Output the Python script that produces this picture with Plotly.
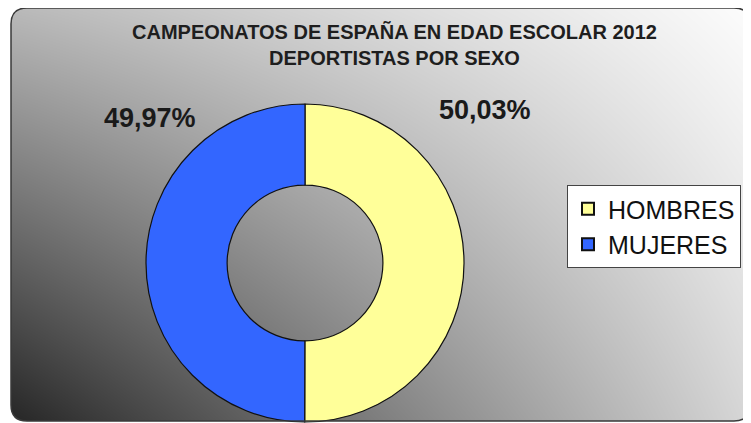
import plotly.graph_objects as go

# ---- data ----
categories = ["HOMBRES", "MUJERES"]
percentages = [50.03, 49.97]
colors = ["#FFFF99", "#3366FF"]
title_lines = ["CAMPEONATOS DE ESPAÑA EN EDAD ESCOLAR 2012", "DEPORTISTAS POR SEXO"]

# background gradient corner greys (bottom-left, bottom-right / top-left, top-right)
bg_bottom = [38, 215]
bg_top = [185, 252]

# the page body has an 8px margin, so the figure is placed at (8, 8)
OFF = 8
W, H = 751 - OFF, 423 - OFF
FONT = "Liberation Sans, Arial, sans-serif"

def px(x):
    return (x - OFF) / W

def py(y):
    return 1 - (y - OFF) / H

fig = go.Figure()

# gradient background as a smooth heatmap
fig.add_trace(go.Heatmap(
    z=[bg_bottom, bg_top], x=[0, 1], y=[0, 1],
    zsmooth="best", zmin=0, zmax=255,
    colorscale=[[0, "rgb(0,0,0)"], [1, "rgb(255,255,255)"]],
    showscale=False, hoverinfo="skip", showlegend=False,
))

# donut
cx, cy, d = 305, 263, 318
fig.add_trace(go.Pie(
    labels=categories, values=percentages,
    marker=dict(colors=colors, line=dict(color="#111111", width=1.2)),
    hole=0.49, sort=False, direction="clockwise", rotation=0,
    textinfo="none", hoverinfo="label+percent",
    domain=dict(x=[px(cx - d / 2), px(cx + d / 2)], y=[py(cy + d / 2), py(cy - d / 2)]),
))

# frame geometry
x0, x1 = px(11), px(750)
y0, y1 = py(421), py(7)
x0 = max(x0, 0)
y1 = min(y1, 1)
rx, ry = 16 / W, 16 / H

frame = (f"M {x0+rx},{y1} L {x1-rx},{y1} Q {x1},{y1} {x1},{y1-ry} "
         f"L {x1},{y0+ry} Q {x1},{y0} {x1-rx},{y0} "
         f"L {x0+rx},{y0} Q {x0},{y0} {x0},{y0+ry} "
         f"L {x0},{y1-ry} Q {x0},{y1} {x0+rx},{y1} Z")

masks = [
    f"M {x0},{y1} L {x0+rx},{y1} Q {x0},{y1} {x0},{y1-ry} Z",
    f"M {x1},{y1} L {x1-rx},{y1} Q {x1},{y1} {x1},{y1-ry} Z",
    f"M {x0},{y0} L {x0+rx},{y0} Q {x0},{y0} {x0},{y0+ry} Z",
    f"M {x1},{y0} L {x1-rx},{y0} Q {x1},{y0} {x1},{y0+ry} Z",
]
shapes = [dict(type="path", path=m, xref="paper", yref="paper",
               fillcolor="white", line=dict(width=0), layer="above") for m in masks]
shapes.append(dict(type="path", path=frame, xref="paper", yref="paper",
                   line=dict(color="#3a3a3a", width=1.5), layer="above"))

def fmt(v):
    return f"{v:.2f}".replace(".", ",") + "%"

annotations = [
    dict(text="<b>" + "<br>".join(title_lines) + "</b>", x=px(395), y=py(45),
         xref="paper", yref="paper", showarrow=False,
         font=dict(family=FONT, size=20, color="#1e1e1e"),
         xanchor="center", yanchor="middle"),
    dict(text=f"<b>{fmt(percentages[0])}</b>", x=px(485), y=py(110), xref="paper", yref="paper",
         showarrow=False, font=dict(family=FONT, size=27, color="#1a1a1a"),
         xanchor="center", yanchor="middle"),
    dict(text=f"<b>{fmt(percentages[1])}</b>", x=px(150), y=py(118), xref="paper", yref="paper",
         showarrow=False, font=dict(family=FONT, size=27, color="#1a1a1a"),
         xanchor="center", yanchor="middle"),
]

fig.update_layout(
    width=W, height=H,
    margin=dict(l=0, r=0, t=0, b=0),
    paper_bgcolor="white", plot_bgcolor="white",
    xaxis=dict(domain=[x0, x1], range=[0, 1], visible=False, fixedrange=True),
    yaxis=dict(domain=[y0, y1], range=[0, 1], visible=False, fixedrange=True),
    shapes=shapes,
    annotations=annotations,
    legend=dict(x=px(567), y=py(185), xanchor="left", yanchor="top",
                bgcolor="white", bordercolor="#444444", borderwidth=1,
                font=dict(family=FONT, size=25, color="#111111"),
                itemsizing="constant", traceorder="normal"),
    showlegend=True,
)

fig.write_html("out.html")
